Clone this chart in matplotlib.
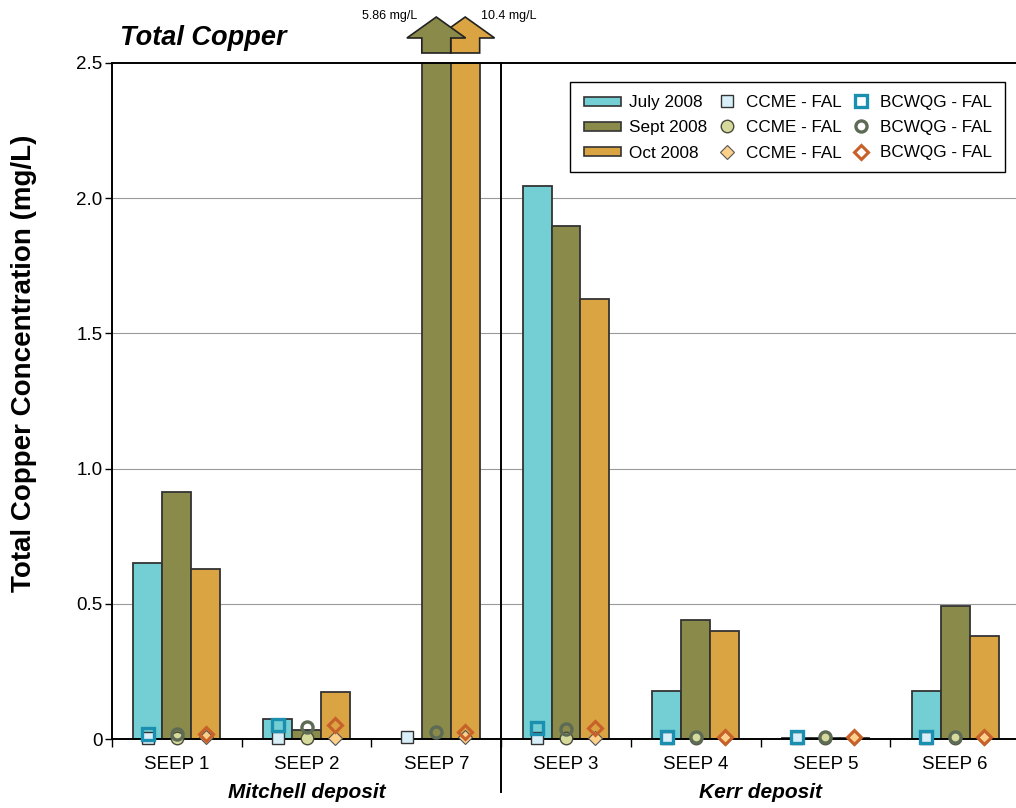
import numpy as np
import matplotlib
matplotlib.use("Agg")
import matplotlib.pyplot as plt
from matplotlib.patches import Patch, Polygon, Rectangle
from matplotlib.lines import Line2D
from matplotlib.legend_handler import HandlerLine2D, HandlerPatch
from matplotlib.transforms import blended_transform_factory

plt.rcParams["font.family"] = ["Liberation Sans", "DejaVu Sans"]

# Sampling sites (Mitchell deposit: first three, Kerr deposit: last four)
seeps = ["SEEP 1", "SEEP 2", "SEEP 7", "SEEP 3", "SEEP 4", "SEEP 5", "SEEP 6"]
deposits = ["Mitchell deposit", "Kerr deposit"]
nan = np.nan

# Total copper concentration (mg/L)
cu_jul = [0.652, 0.074, nan, 2.046, 0.178, 0.003, 0.178]
cu_sep = [0.913, 0.033, 5.86, 1.897, 0.440, 0.003, 0.492]
cu_oct = [0.627, 0.174, 10.4, 1.627, 0.400, 0.003, 0.381]

# Guideline values (mg/L)
ccme_jul = [0.002, 0.004, 0.007, 0.002, 0.005, 0.005, 0.005]
ccme_sep = [0.003, 0.002, nan, 0.002, 0.004, 0.005, 0.004]
ccme_oct = [0.007, 0.004, 0.007, 0.004, 0.005, 0.005, 0.005]
bcwqg_jul = [0.018, 0.052, nan, 0.040, 0.006, 0.007, 0.006]
bcwqg_sep = [0.020, 0.045, 0.026, 0.036, 0.006, 0.007, 0.006]
bcwqg_oct = [0.020, 0.052, 0.026, 0.040, 0.006, 0.007, 0.006]

months = ["July 2008", "Sept 2008", "Oct 2008"]
bar_colors = ["#74cfd4", "#8a8a4a", "#d9a441"]

W, H = 1016, 808
fig = plt.figure(figsize=(W / 100, H / 100), dpi=100)
ax = fig.add_axes([112 / W, 1 - 739 / H, (1020 - 112) / W, 676 / H])

ymax = 2.5
x = np.arange(len(seeps)) + 0.5
bw = 0.223
offsets = [-bw, 0.0, bw]

series = [cu_jul, cu_sep, cu_oct]
for vals, off, col in zip(series, offsets, bar_colors):
    ax.bar(x + off, vals, width=bw, color=col, edgecolor="#333333",
           linewidth=1.3, zorder=2)

# guideline markers
ccme_style = [
    dict(marker="s", ms=9, mfc="#d8eef8", mec="#333333", mew=1.0),
    dict(marker="o", ms=9, mfc="#d6d99c", mec="#4a4a3a", mew=1.0),
    dict(marker="D", ms=7, mfc="#fdd08a", mec="#555555", mew=0.8),
]
bcwqg_style = [
    dict(marker="s", ms=8, mfc="none", mec="#1a8fb0", mew=2.4),
    dict(marker="o", ms=8, mfc="none", mec="#5d6b55", mew=2.4),
    dict(marker="D", ms=7, mfc="none", mec="#c8602a", mew=2.2),
]
ccme = [ccme_jul, ccme_sep, ccme_oct]
bcwqg = [bcwqg_jul, bcwqg_sep, bcwqg_oct]
for vals, off, st in zip(ccme, offsets, ccme_style):
    ax.plot(x + off, vals, ls="none", zorder=4, clip_on=False, **st)
for vals, off, st in zip(bcwqg, offsets, bcwqg_style):
    ax.plot(x + off, vals, ls="none", zorder=5, clip_on=False, **st)

ax.set_xlim(0, len(seeps))
ax.set_ylim(0, ymax)
ax.set_yticks([0, 0.5, 1.0, 1.5, 2.0, 2.5])
ax.set_yticklabels(["0", "0.5", "1.0", "1.5", "2.0", "2.5"], fontsize=13.5)
ax.set_xticks(np.arange(len(seeps) + 1))
ax.set_xticklabels([])
ax.set_xticks(x, minor=True)
ax.set_xticklabels(seeps, minor=True, fontsize=13.5)
ax.tick_params(axis="x", which="major", direction="out", length=6, width=1)
ax.tick_params(axis="x", which="minor", length=0, pad=12)
ax.tick_params(axis="y", direction="out", length=5, width=1, pad=2)
for v in [0.5, 1.0, 1.5, 2.0]:
    ax.axhline(v, color="#9a9a9a", lw=0.8, zorder=0)
for s in ["top", "left", "bottom"]:
    ax.spines[s].set_linewidth(1.4)
    ax.spines[s].set_color("black")
ax.spines["right"].set_visible(False)

ax.set_ylabel("Total Copper Concentration (mg/L)", fontsize=20,
              fontweight="bold")
ax.yaxis.set_label_coords((37 - 112) / 908, (739 - 363) / 676)

# divider between deposits
ax.add_line(Line2D([3, 3], [1, -(792 - 739) / 676], color="black", lw=1.4,
                   transform=blended_transform_factory(ax.transData, ax.transAxes),
                   clip_on=False, zorder=6))

trans = blended_transform_factory(ax.transData, fig.transFigure)
ax.text(1.5, 1 - 793 / H, deposits[0], transform=trans, ha="center",
        va="center", fontsize=15, fontweight="bold", style="italic")
ax.text(5.0, 1 - 793 / H, deposits[1], transform=trans, ha="center",
        va="center", fontsize=15, fontweight="bold", style="italic")

fig.text(120 / W, 1 - 45 / H, "Total Copper", fontsize=19.5,
         fontweight="bold", style="italic", va="baseline")

# off-scale arrows for SEEP 7
px = ymax / 676.0
y_base = ymax + 10 * px
y_head = ymax + 25 * px
y_tip = ymax + 46 * px
flare = 0.115


def off_scale_arrow(xc, color, z):
    l, r = xc - bw / 2, xc + bw / 2
    pts = [(l, y_base), (r, y_base), (r, y_head), (r + flare, y_head),
           (xc, y_tip), (l - flare, y_head), (l, y_head)]
    ax.add_patch(Polygon(pts, closed=True, facecolor=color,
                         edgecolor="#222222", lw=1.2, clip_on=False,
                         zorder=z))


i7 = seeps.index("SEEP 7")
off_scale_arrow(x[i7] + offsets[2], bar_colors[2], 7)
off_scale_arrow(x[i7] + offsets[1], bar_colors[1], 8)
ax.text(x[i7] + offsets[1] - bw / 2 - 0.035, ymax + 47 * px,
        f"{cu_sep[i7]:.2f} mg/L", ha="right", va="center", fontsize=9,
        clip_on=False)
ax.text(x[i7] + offsets[2] + bw / 2 + 0.01, ymax + 47 * px,
        f"{cu_oct[i7]:.1f} mg/L", ha="left", va="center", fontsize=9,
        clip_on=False)


# legend: wide swatches for the bars, markers sitting close to their text
class WideSwatch(HandlerPatch):
    def create_artists(self, legend, orig_handle, xdescent, ydescent,
                       width, height, fontsize, trans):
        extra = 0.95 * fontsize
        p = Rectangle((-xdescent - extra, -ydescent + 0.1 * height),
                      width + extra, 0.75 * height,
                      facecolor=orig_handle.get_facecolor(),
                      edgecolor=orig_handle.get_edgecolor(),
                      lw=orig_handle.get_linewidth(), transform=trans)
        return [p]


handles = [Patch(facecolor=c, edgecolor="#333333", lw=1.2) for c in bar_colors]
labels = list(months)
for st in ccme_style:
    handles.append(Line2D([], [], ls="none", **st))
    labels.append("CCME - FAL")
for st in bcwqg_style:
    handles.append(Line2D([], [], ls="none", **st))
    labels.append("BCWQG - FAL")
hmap = {h: WideSwatch() for h in handles[:3]}
hmap.update({h: HandlerLine2D(numpoints=1) for h in handles[3:]})

ax.add_patch(Rectangle((570 / W, 1 - 172 / H), 435 / W, 90 / H,
                       transform=fig.transFigure, facecolor="white",
                       edgecolor="black", lw=1.0, zorder=9, clip_on=False))
leg = ax.legend(handles, labels, ncol=3, loc="upper left",
                bbox_to_anchor=(600 / W, 1 - 95 / H),
                bbox_transform=fig.transFigure, fontsize=12.3,
                frameon=False, handler_map=hmap,
                handlelength=1.2, handletextpad=0.5,
                columnspacing=0.55, labelspacing=0.6, borderpad=0,
                borderaxespad=0)
leg.set_zorder(10)

fig.savefig("out.png", dpi=100)
